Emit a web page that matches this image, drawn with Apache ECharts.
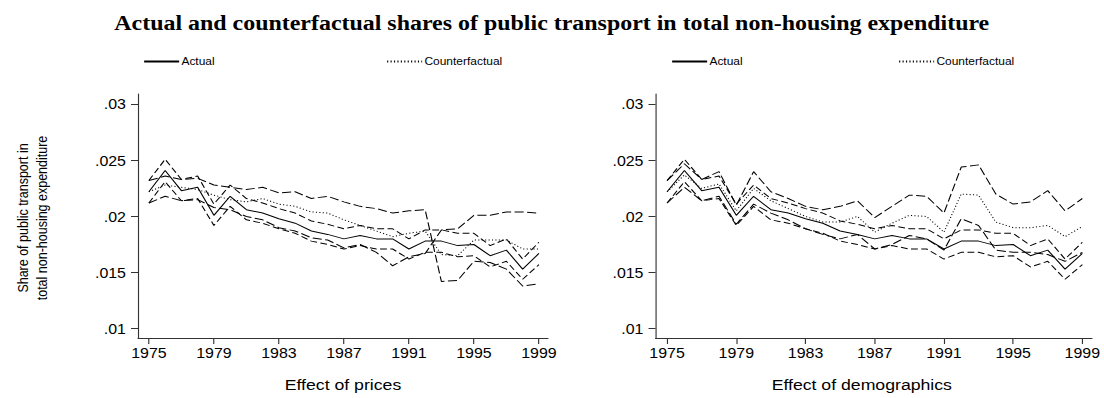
<!DOCTYPE html>
<html>
<head>
<meta charset="utf-8">
<script src="https://cdn.jsdelivr.net/npm/echarts@6/dist/echarts.min.js"></script>
<style>
  html, body { margin: 0; padding: 0; background: #fff; overflow: hidden; }
  #frame { width: 1104px; height: 398px; overflow: hidden; }
  /* the figure is laid out narrow and widened, as in the printed graph */
  #chart { height: 398px; transform-origin: 0 0; }
</style>
</head>
<body>
<div id="frame"><div id="chart"></div></div>
<script>
// Survey years
const years = [1975, 1976, 1977, 1978, 1979, 1980, 1981, 1982, 1983, 1984, 1985, 1986, 1987,
               1988, 1989, 1990, 1991, 1992, 1993, 1994, 1995, 1996, 1997, 1998, 1999];
const xTicks = [1975, 1979, 1983, 1987, 1991, 1995, 1999];
const yTicks = [0.01, 0.015, 0.02, 0.025, 0.03];

// Actual share and its band (same in both panels)
const actual   = [.0222, .0241, .0223, .0226, .0201, .0218, .0206, .0203, .0198, .0194, .0187, .0184, .0180,
                  .0183, .0180, .0180, .0171, .0178, .0178, .0174, .0175, .0165, .0170, .0153, .0167];
const actualHi = [.0232, .0251, .0233, .0236, .0211, .0228, .0216, .0212, .0207, .0203, .0196, .0193, .0189,
                  .0192, .0189, .0189, .0180, .0188, .0188, .0185, .0185, .0174, .0180, .0162, .0177];
const actualLo = [.0212, .0231, .0214, .0216, .0192, .0209, .0197, .0194, .0189, .0185, .0178, .0175, .0171,
                  .0174, .0171, .0171, .0162, .0168, .0168, .0164, .0165, .0155, .0160, .0144, .0157];

// Counterfactual: effect of prices
const cfPrices  = [.0222, .0228, .0226, .0224, .0219, .0215, .0213, .0216, .0211, .0209, .0204, .0203, .0197,
                   .0192, .0187, .0182, .0185, .0187, .0166, .0165, .0179, .0179, .0179, .0171, .0171];
const cfPricesA = [.0232, .0236, .0233, .0234, .0228, .0226, .0224, .0226, .0221, .0222, .0216, .0218, .0213,
                   .0209, .0207, .0203, .0205, .0206, .0142, .0143, .0160, .0159, .0153, .0138, .0140];
const cfPricesB = [.0212, .0218, .0214, .0215, .0208, .0206, .0200, .0197, .0190, .0187, .0181, .0179, .0172,
                   .0175, .0168, .0156, .0164, .0167, .0188, .0189, .0201, .0201, .0204, .0204, .0203];

// Counterfactual: effect of demographics
const cfDemo   = [.0222, .0237, .0225, .0229, .0205, .0225, .0214, .0207, .0200, .0195, .0195, .0200, .0186,
                  .0194, .0201, .0200, .0186, .0220, .0219, .0195, .0190, .0190, .0192, .0182, .0191];
const cfDemoHi = [.0232, .0247, .0233, .0240, .0210, .0240, .0222, .0216, .0209, .0206, .0209, .0214, .0199,
                  .0209, .0219, .0218, .0203, .0244, .0246, .0220, .0211, .0213, .0223, .0205, .0216];
const cfDemoLo = [.0212, .0226, .0214, .0218, .0193, .0211, .0203, .0197, .0189, .0184, .0180, .0184, .0171,
                  .0175, .0183, .0180, .0170, .0198, .0192, .0170, .0168, .0168, .0166, .0160, .0168];

const panelTitles = ['Effect of prices', 'Effect of demographics'];
const chartTitle = 'Actual and counterfactual shares of public transport in total non-housing expenditure';
const yTitle = ['Share of public transport in', 'total non-housing expenditure'];

const SANS = '"Liberation Sans", Arial, Helvetica, sans-serif';
const SERIF = '"Liberation Serif", "Times New Roman", serif';
const INK = '#000';

// Horizontal widening of the whole figure; layout below is in final pixels, divided back.
const WIDEN = 1.14;
const W = 1104;
const px = v => v / WIDEN;

const chartDom = document.getElementById('chart');
chartDom.style.width = px(W) + 'px';
chartDom.style.transform = 'scaleX(' + WIDEN + ')';

const grids = [
  { left: px(138), top: 94, width: px(410), height: 244 },
  { left: px(655.5), top: 94, width: px(446.5), height: 244 }
];
// extra right padding on the axis name moves it left of the plot centre
const nameShift = [0, px(24)];

function xAxisFor(i) {
  return {
    type: 'value', gridIndex: i, min: 1974.33, max: 1999.56,
    name: panelTitles[i], nameLocation: 'middle', nameGap: 39,
    nameTextStyle: { fontFamily: SANS, fontSize: 15.5, color: INK, padding: [0, nameShift[i], 0, 0] },
    axisLine: { show: true, lineStyle: { color: '#333', width: 1 } },
    axisTick: { show: true, length: 6, customValues: xTicks, lineStyle: { color: '#333' } },
    axisLabel: { customValues: xTicks, fontFamily: SANS, fontSize: 14, color: INK, margin: 8,
                 formatter: v => String(v) },
    splitLine: { show: false }
  };
}
function yAxisFor(i) {
  return {
    type: 'value', gridIndex: i, min: 0.009161, max: 0.03092,
    axisLine: { show: true, lineStyle: { color: '#333', width: 1 } },
    axisTick: { show: true, length: px(7), customValues: yTicks, lineStyle: { color: '#333' } },
    axisLabel: { customValues: yTicks, fontFamily: SANS, fontSize: 14, color: INK, margin: px(12),
                 formatter: v => String(+v.toFixed(3)).replace(/^0/, '') },
    splitLine: { show: false }
  };
}

function line(name, axis, values, dash) {
  return {
    type: 'line', name, xAxisIndex: axis, yAxisIndex: axis,
    data: years.map((y, k) => [y, values[k]]),
    symbol: 'none', silent: true,
    itemStyle: { color: INK },
    lineStyle: { color: INK, width: 1, type: dash },
    z: dash === 'solid' ? 5 : 3
  };
}

const BAND = [6, 3];
const CFBAND = [8, 3];
const DOTS = [1, 2];

const series = [
  line('Actual', 0, actual, 'solid'),
  line('Actual upper', 0, actualHi, BAND),
  line('Actual lower', 0, actualLo, BAND),
  line('Counterfactual', 0, cfPrices, DOTS),
  line('Counterfactual band A', 0, cfPricesA, CFBAND),
  line('Counterfactual band B', 0, cfPricesB, CFBAND),

  line('Actual', 1, actual, 'solid'),
  line('Actual upper', 1, actualHi, BAND),
  line('Actual lower', 1, actualLo, BAND),
  line('Counterfactual', 1, cfDemo, DOTS),
  line('Counterfactual upper', 1, cfDemoHi, CFBAND),
  line('Counterfactual lower', 1, cfDemoLo, CFBAND)
];

function legendItem(name, left) {
  return {
    data: [name], left: px(left), top: 56, orient: 'horizontal', padding: 0,
    itemWidth: px(35), itemHeight: 14, itemGap: 0,
    selectedMode: false,
    itemStyle: { opacity: 0 },
    textStyle: { fontFamily: SANS, fontSize: 10.5, color: INK, padding: [0, 0, 0, -3] }
  };
}

const option = {
  animation: false,
  backgroundColor: '#fff',
  title: {
    text: chartTitle, left: 'center', top: 7,
    textStyle: { fontFamily: SERIF, fontWeight: 'bold', fontSize: 21, color: INK }
  },
  legend: [
    legendItem('Actual', 143),
    legendItem('Counterfactual', 386),
    legendItem('Actual', 671),
    legendItem('Counterfactual', 898)
  ],
  grid: grids,
  xAxis: [xAxisFor(0), xAxisFor(1)],
  yAxis: [yAxisFor(0), yAxisFor(1)],
  series,
  graphic: yTitle.map((t, k) => ({
    type: 'text', x: px(23 + k * 19), y: 218, rotation: Math.PI / 2,
    style: { text: t, fontFamily: SANS, fontSize: 12.5, fill: INK, align: 'center', verticalAlign: 'middle' }
  }))
};

const chart = echarts.init(chartDom, null, { renderer: 'svg' });
chart.setOption(option);
</script>
</body>
</html>
